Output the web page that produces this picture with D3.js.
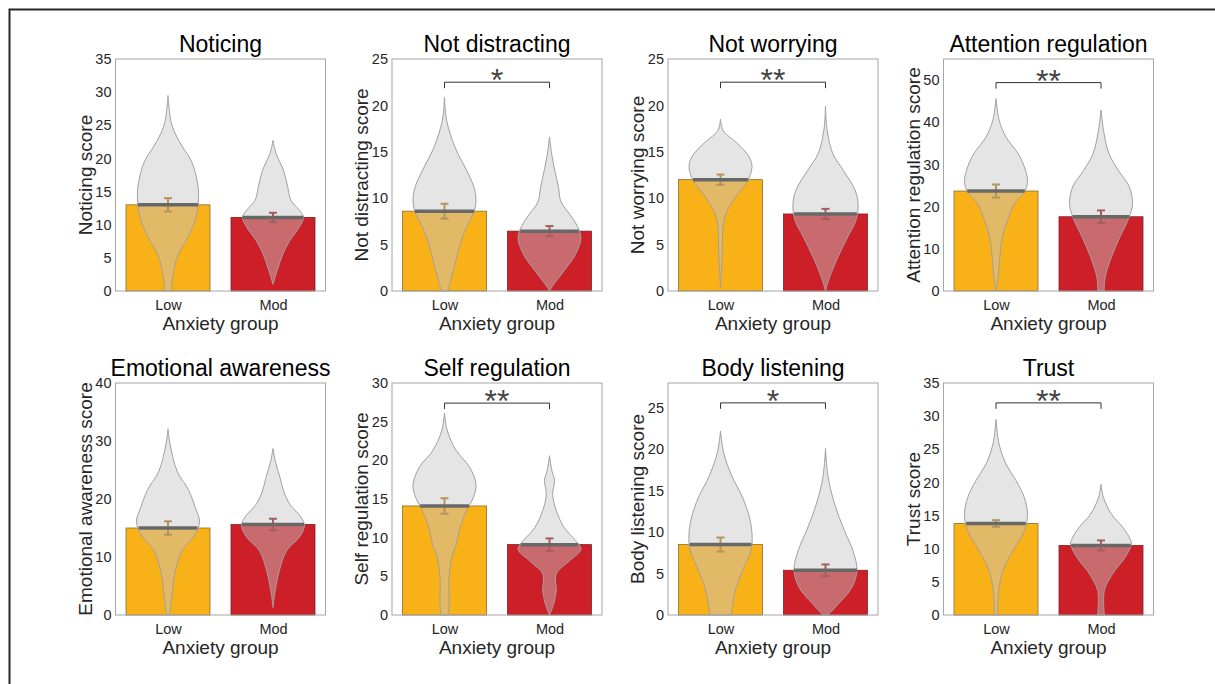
<!DOCTYPE html>
<html>
<head>
<meta charset="utf-8">
<script src="https://cdn.jsdelivr.net/npm/d3@7"></script>
<style>
  body { margin: 0; background: #fff; }
  text { font-family: "Liberation Sans", Arial, Helvetica, sans-serif; }
</style>
</head>
<body>
<div id="chart"></div>
<script>
// Panel titles and axis labels
var titles = ["Noticing", "Not distracting", "Not worrying", "Attention regulation",
  "Emotional awareness", "Self regulation", "Body listening", "Trust"];
var yLabels = ["Noticing score", "Not distracting score", "Not worrying score", "Attention regulation score",
  "Emotional awareness score", "Self regulation score", "Body listening score", "Trust score"];
var groups = ["Low", "Mod"];
var xLabel = "Anxiety group";

// y-axis limits and tick steps
var yMax = [35, 25, 25, 55, 40, 30, 28, 35];
var yStep = [5, 5, 5, 10, 10, 5, 5, 5];

// group means and SEM
var meanLow = [13.0, 8.6, 12.0, 23.7, 15.0, 14.1, 8.5, 13.8];
var meanMod = [11.1, 6.45, 8.3, 17.6, 15.6, 9.1, 5.4, 10.5];
var semLow = [1.0, 0.8, 0.55, 1.55, 1.15, 1.0, 0.85, 0.5];
var semMod = [0.7, 0.55, 0.55, 1.5, 1.0, 0.8, 0.7, 0.75];

// significance brackets (score level) and stars
var bracketLevel = [null, 22.5, 22.5, 49.4, null, 27.4, 25.6, 32.0];
var stars = ["", "*", "**", "**", "", "**", "*", "**"];

// violin outlines: [score, half width in group units]
var violinLow = [
  [[0,0.03],[3.1,0.055],[5.6,0.10],[8.1,0.19],[10.7,0.26],[12.7,0.285],[15.2,0.29],[17.2,0.27],[19.7,0.22],[21.7,0.14],[23.7,0.07],[25.7,0.027],[29.5,0]],
  [[0,0.03],[2.9,0.10],[5.1,0.15],[6.9,0.21],[8.5,0.28],[9.8,0.30],[11.2,0.28],[13.0,0.21],[15.5,0.10],[18.4,0.02],[20.9,0]],
  [[0.4,0],[4.0,0.016],[6.9,0.025],[8.3,0.05],[10.1,0.14],[11.9,0.26],[13.4,0.30],[14.5,0.27],[15.9,0.16],[17.3,0.025],[18.5,0]],
  [[0,0],[2.5,0.016],[8.9,0.04],[12.8,0.06],[16.8,0.11],[20.7,0.175],[23.9,0.28],[26.3,0.30],[29.4,0.27],[32.6,0.21],[36.5,0.095],[40.5,0.03],[45.6,0]],
  [[0,0.016],[3.0,0.035],[7.6,0.07],[11.1,0.135],[13.9,0.26],[16.2,0.30],[18.5,0.26],[21.4,0.2],[24.8,0.087],[29.4,0.02],[32.1,0]],
  [[0,0.035],[1.4,0.043],[4.9,0.043],[7.5,0.07],[9.2,0.115],[10.9,0.14],[13.5,0.21],[15.2,0.275],[16.9,0.30],[19.1,0.24],[21.3,0.11],[23.8,0.027],[26.1,0]],
  [[0,0.1],[2.9,0.14],[5.4,0.21],[7.8,0.29],[9.8,0.30],[11.8,0.275],[14.2,0.21],[16.7,0.11],[19.5,0.032],[22.2,0]],
  [[0,0.016],[3.7,0.025],[6.7,0.067],[9.7,0.16],[12.7,0.27],[15.2,0.30],[17.7,0.27],[20.3,0.19],[22.8,0.095],[25.8,0.029],[29.5,0]]
];
var violinMod = [
  [[1.0,0],[3.1,0.04],[5.6,0.095],[7.6,0.16],[9.6,0.25],[11.1,0.29],[12.2,0.25],[13.7,0.17],[15.7,0.14],[18.2,0.1],[20.7,0.03],[22.7,0]],
  [[0,0],[0.4,0.02],[2.2,0.14],[4.0,0.25],[5.8,0.30],[7.3,0.25],[8.3,0.19],[9.6,0.11],[11.2,0.085],[13.0,0.05],[14.8,0.02],[16.6,0]],
  [[0,0],[1.5,0.04],[3.7,0.12],[5.8,0.21],[7.6,0.29],[9.4,0.31],[10.9,0.28],[13.0,0.17],[14.8,0.07],[17.3,0.016],[19.9,0]],
  [[0,0.03],[3.3,0.04],[8.1,0.10],[12.8,0.18],[17.6,0.27],[20.7,0.30],[24.7,0.27],[28.6,0.165],[32.6,0.075],[38.1,0.024],[42.9,0]],
  [[1.3,0],[3.6,0.016],[7.6,0.06],[11.1,0.13],[13.4,0.25],[15.4,0.30],[16.8,0.27],[19.1,0.16],[21.4,0.1],[23.7,0.067],[26.5,0.022],[28.7,0]],
  [[0,0],[1.0,0.03],[3.1,0.064],[5.3,0.064],[7.0,0.19],[8.5,0.30],[9.6,0.25],[11.3,0.14],[13.5,0.065],[15.6,0.03],[17.4,0.048],[18.7,0.022],[20.6,0]],
  [[0,0.024],[1.3,0.12],[3.3,0.25],[5.4,0.30],[7.8,0.26],[10.2,0.18],[13.4,0.087],[16.7,0.024],[20.1,0]],
  [[0,0.032],[3.7,0.032],[6.2,0.11],[8.7,0.23],[10.7,0.29],[11.4,0.28],[13.2,0.21],[15.2,0.1],[17.7,0.024],[19.7,0]]
];

var barColors = ["#f9b118", "#cc1f27"];
var barEdges = ["#8a6e2c", "#7d2226"];
var errColors = ["#b3945a", "#a65d5f"];

var lefts = [115.5, 392, 668, 943.5];
var tops = [59, 383];
var width = 210;
var height = 232;

var svg = d3.select("#chart")
  .append("svg")
  .attr("width", 1215)
  .attr("height", 684);

// outer frame
svg.append("rect")
  .attr("x", 9.5).attr("y", 9.5)
  .attr("width", 1400).attr("height", 900)
  .attr("fill", "none")
  .attr("stroke", "#262626")
  .attr("stroke-width", 2);

// half width of a violin at a given score (for the mean line)
function halfWidthAt(profile, v) {
  for (var k = 0; k < profile.length - 1; k++) {
    var a = profile[k], b = profile[k + 1];
    if (v >= a[0] && v <= b[0]) {
      var t = (v - a[0]) / (b[0] - a[0]);
      return a[1] + t * (b[1] - a[1]);
    }
  }
  return 0;
}

titles.forEach(function(title, i) {
  var col = i % 4, row = Math.floor(i / 4);
  var g = svg.append("g")
    .attr("transform", `translate(${lefts[col]}, ${tops[row]})`);

  var x = d3.scaleLinear().domain([0.5, 2.5]).range([0, width]);
  var y = d3.scaleLinear().domain([0, yMax[i]]).range([height, 0]);

  var means = [meanLow[i], meanMod[i]];
  var sems = [semLow[i], semMod[i]];
  var violins = [violinLow[i], violinMod[i]];

  // bars
  g.selectAll(".bar")
    .data(means)
    .enter()
    .append("rect")
    .attr("x", (d, j) => x(j + 1 - 0.4))
    .attr("y", d => y(d))
    .attr("width", x(0.8) - x(0))
    .attr("height", d => y(0) - y(d))
    .attr("fill", (d, j) => barColors[j])
    .attr("stroke", (d, j) => barEdges[j])
    .attr("stroke-width", 0.8);

  // violins
  violins.forEach(function(profile, j) {
    var c = j + 1;
    var area = d3.area()
      .curve(d3.curveCatmullRom.alpha(0.5))
      .y(d => y(d[0]))
      .x0(d => x(c - d[1]))
      .x1(d => x(c + d[1]));
    g.append("path")
      .datum(profile)
      .attr("d", area)
      .attr("fill", "#c5c6c7")
      .attr("fill-opacity", 0.45)
      .attr("stroke", "#a0a0a0")
      .attr("stroke-width", 1);
  });

  // error bars (SEM)
  means.forEach(function(m, j) {
    var cx = x(j + 1);
    var eb = g.append("g")
      .attr("stroke", errColors[j])
      .attr("stroke-width", 2);
    eb.append("line")
      .attr("x1", cx).attr("x2", cx)
      .attr("y1", y(m - sems[j])).attr("y2", y(m + sems[j]));
    [m - sems[j], m + sems[j]].forEach(function(v) {
      eb.append("line")
        .attr("x1", cx - 4).attr("x2", cx + 4)
        .attr("y1", y(v)).attr("y2", y(v));
    });
  });

  // mean lines across the violin
  means.forEach(function(m, j) {
    var hw = halfWidthAt(violins[j], m);
    g.append("line")
      .attr("x1", x(j + 1 - hw)).attr("x2", x(j + 1 + hw))
      .attr("y1", y(m)).attr("y2", y(m))
      .attr("stroke", "#686868")
      .attr("stroke-width", 3.5);
  });

  // significance bracket
  if (bracketLevel[i] !== null) {
    var by = y(bracketLevel[i]);
    g.append("path")
      .attr("d", `M${x(1)},${by + 6}V${by}H${x(2)}V${by + 6}`)
      .attr("fill", "none")
      .attr("stroke", "#333")
      .attr("stroke-width", 1);
    g.append("text")
      .attr("x", x(1.5))
      .attr("y", by + 9)
      .attr("text-anchor", "middle")
      .attr("font-size", "32px")
      .attr("fill", "#444")
      .text(stars[i]);
  }

  // axes
  var leftAxis = d3.axisLeft(y)
    .tickValues(d3.range(0, yMax[i] + 0.001, yStep[i]))
    .tickSize(0)
    .tickPadding(4);
  var bottomAxis = d3.axisBottom(x)
    .tickValues([1, 2])
    .tickFormat((d, k) => groups[k])
    .tickSize(0)
    .tickPadding(9);

  var ya = g.append("g").call(leftAxis);
  var xa = g.append("g").attr("transform", `translate(0, ${height})`).call(bottomAxis);
  [ya, xa].forEach(function(a) {
    a.select(".domain").remove();
    a.selectAll("text")
      .attr("font-family", "Liberation Sans, Arial, sans-serif")
      .attr("font-size", "14.5px")
      .attr("fill", "#262626");
  });

  // axis box
  g.append("rect")
    .attr("width", width)
    .attr("height", height)
    .attr("fill", "none")
    .attr("stroke", "#a6a6a6")
    .attr("stroke-width", 1);

  // title and labels
  g.append("text")
    .attr("x", width / 2)
    .attr("y", -7)
    .attr("text-anchor", "middle")
    .attr("font-size", "23px")
    .attr("fill", "#000")
    .text(title);

  g.append("text")
    .attr("transform", "rotate(-90)")
    .attr("x", -height / 2)
    .attr("y", -24)
    .attr("text-anchor", "middle")
    .attr("font-size", "19px")
    .attr("fill", "#262626")
    .text(yLabels[i]);

  g.append("text")
    .attr("x", width / 2)
    .attr("y", height + 39)
    .attr("text-anchor", "middle")
    .attr("font-size", "19px")
    .attr("fill", "#262626")
    .text(xLabel);
});
</script>
</body>
</html>
